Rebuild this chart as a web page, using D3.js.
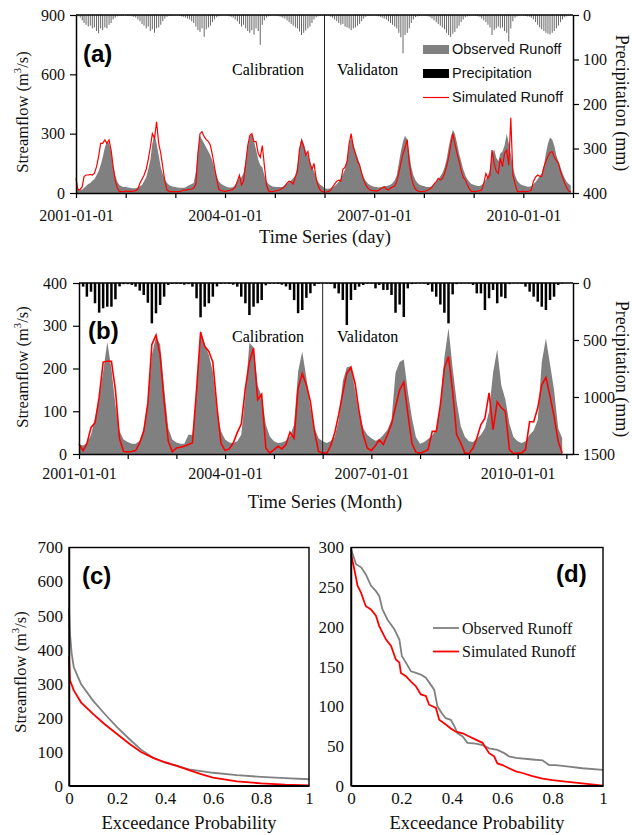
<!DOCTYPE html>
<meta charset="utf-8">
<script src="https://d3js.org/d3.v7.min.js"></script>
<style>
  body { margin: 0; background: #fff; }
  svg text { font-family: "Liberation Serif", "Times New Roman", serif; }
  svg text.sans { font-family: "Liberation Sans", Arial, sans-serif; }
</style>
<div id="chart"></div>
<script>
// ---- (a) daily series at half-month steps (2001-2010)
var obsDaily = [
  24,20,18,18,25,35,45,50,62,70,90,110,140,180,230,260,250,210,140,90,55,40,34,30,
  32,28,26,24,24,24,28,35,40,60,80,120,165,250,300,250,190,130,95,70,50,40,35,32,
  30,28,26,26,26,28,35,40,45,50,110,210,290,270,250,230,210,190,160,120,85,60,48,40,
  35,30,28,28,30,40,60,75,80,100,160,230,280,300,260,220,170,140,130,90,60,45,38,33,
  32,30,30,30,32,40,48,55,65,75,90,140,220,280,250,215,190,160,130,110,80,55,42,35,
  25,22,22,24,28,35,45,55,75,95,120,170,240,280,250,210,180,150,110,80,60,48,40,35,
  32,30,28,30,32,35,35,38,42,50,65,90,150,210,260,290,270,200,130,90,65,50,42,38,
  35,32,30,30,35,45,55,70,85,100,130,170,230,280,320,300,250,200,160,120,90,70,55,45,
  42,38,35,35,40,50,70,90,120,200,220,180,160,200,210,240,300,250,200,130,90,65,50,42,
  38,35,32,32,35,45,55,70,85,100,140,200,250,280,270,240,190,160,130,100,75,55,45,38
];
var simDaily = [
  74,15,19,32,83,91,91,94,91,99,133,184,251,251,268,251,268,217,133,66,24,7,7,7,
  10,8,8,8,10,12,20,50,70,90,120,170,230,300,276,360,250,200,130,60,15,8,7,7,
  7,7,7,10,15,15,17,18,20,25,45,200,300,310,285,270,260,240,190,130,70,20,12,10,
  8,10,12,15,20,30,60,90,40,60,150,240,290,300,260,260,200,180,240,140,40,10,7,7,
  10,12,15,20,25,35,50,60,55,45,80,110,220,265,235,190,210,150,120,150,70,35,15,7,
  5,5,8,15,30,45,60,65,60,120,130,160,250,300,230,200,160,140,100,65,40,25,15,12,
  12,10,12,20,25,30,20,15,25,30,35,60,100,150,200,230,270,150,80,40,20,10,8,7,
  8,10,15,22,30,45,57,74,66,74,100,133,180,240,300,250,200,160,116,80,66,40,20,8,
  8,7,10,12,15,49,99,74,91,217,150,110,99,175,133,200,217,140,380,90,49,10,7,7,
  8,7,8,10,15,60,80,91,85,83,130,160,184,205,209,184,165,150,110,80,49,25,10,7
];
var precDaily = [
  2,3,6,12,18,22,26,24,30,28,36,41,30,34,28,30,22,18,10,6,3,2,2,1,
  1,2,2,3,4,6,10,14,20,24,30,26,36,32,40,30,28,22,14,8,4,2,2,1,
  1,1,2,3,4,6,8,10,14,18,26,34,38,30,49,32,28,24,16,10,5,3,2,1,
  1,2,3,4,6,10,14,20,26,22,30,36,40,34,44,30,36,67,22,12,6,3,2,1,
  1,2,3,4,6,8,12,16,20,24,28,30,37,45,40,35,30,26,18,10,5,3,2,1,
  1,2,2,4,6,10,14,18,22,20,26,28,30,34,30,28,24,20,14,8,4,2,2,1,
  1,2,3,4,6,8,10,14,18,22,26,30,40,50,86,45,40,30,18,10,5,3,2,1,
  1,2,3,5,8,12,16,20,24,28,32,40,45,49,42,38,30,24,16,10,5,3,2,1,
  1,2,3,4,8,12,16,22,28,45,34,30,26,30,28,36,40,60,30,14,6,3,2,1,
  1,2,3,4,6,10,16,22,28,32,36,40,42,44,40,36,30,24,16,10,5,3,2,1
];

// ---- (b) monthly series 2001-01 .. 2010-12
var obsMonthly = [
  22,20,26,45,84,131,193,262,200,115,53,34,
  28,24,24,31,61,123,232,275,256,154,61,34,
  27,24,24,45,45,139,290,256,232,193,100,53,
  34,27,26,30,45,139,260,250,160,135,69,41,
  30,26,27,31,41,69,193,240,178,108,61,37,
  30,26,30,40,80,170,203,205,150,95,60,45,
  37,31,34,45,56,80,190,215,221,147,84,39,
  24,28,35,44,57,115,225,295,201,123,65,41,
  30,28,36,45,60,100,190,245,160,128,70,40,
  30,26,30,45,55,80,215,270,210,150,60,37
];
var simMonthly = [
  23,8,24,62,73,133,215,217,217,150,35,6,
  5,6,8,26,53,119,256,278,232,123,30,5,
  14,16,18,22,26,150,285,252,240,215,110,25,
  8,12,25,50,70,155,215,248,127,140,14,2,
  10,18,12,22,51,37,154,188,162,123,53,6,
  2,2,18,49,92,143,189,203,165,100,45,14,
  8,20,33,22,45,70,110,150,168,95,25,4,
  2,6,10,53,53,115,201,228,147,45,26,2,
  1,14,37,69,84,143,57,122,108,100,10,1,
  2,3,10,76,75,108,162,179,135,88,30,2
];
var precMonthly = [
  10,32,120,76,178,260,222,208,208,143,30,10,
  10,17,32,67,105,173,354,266,193,120,17,8,
  8,8,15,10,32,134,301,208,178,120,30,8,
  5,8,15,32,120,178,281,208,178,149,20,8,
  5,8,15,30,60,150,265,237,130,90,25,8,
  3,5,9,47,91,149,368,149,61,32,17,5,
  5,47,17,61,61,105,261,189,298,47,10,5,
  3,5,17,76,120,189,261,354,100,10,5,3,
  5,17,91,91,237,134,61,178,120,134,10,3,
  3,5,32,76,120,164,208,237,149,120,17,5
];
var dateLabels = ["2001-01-01", "2004-01-01", "2007-01-01", "2010-01-01"];

// ---- (c) daily flow duration curves
var fdcDayObsP = [0, 0.004, 0.011, 0.02, 0.05, 0.1, 0.15, 0.2, 0.25, 0.3, 0.35, 0.4, 0.5, 0.6, 0.7, 0.8, 0.9, 1.0];
var fdcDayObsQ = [520, 448, 389, 348, 299, 250, 210, 172, 138, 106, 82, 68, 48, 38, 31, 26, 22, 19];
var fdcDaySimP = [0, 0.004, 0.02, 0.05, 0.1, 0.15, 0.2, 0.25, 0.3, 0.35, 0.4, 0.45, 0.5, 0.55, 0.6, 0.7, 0.8, 0.9, 1.0];
var fdcDaySimQ = [380, 310, 280, 245, 211, 180, 152, 124, 99, 82, 69, 58, 46, 34, 24, 13, 7, 3, 1];

// ---- (d) monthly flow duration curves
var fdcMonObsP = [0, 0.02, 0.04, 0.059, 0.079, 0.099, 0.112, 0.125, 0.145, 0.172, 0.192, 0.202, 0.218, 0.238, 0.258, 0.277, 0.297, 0.317, 0.33, 0.343, 0.361, 0.376, 0.396, 0.41, 0.423, 0.443, 0.462, 0.495, 0.522, 0.548, 0.581, 0.608, 0.627, 0.654, 0.72, 0.76, 0.786, 0.812, 0.865, 0.918, 1.0];
var fdcMonObsQ = [298, 279, 275, 266, 252, 245, 239, 222, 209, 197, 184, 163, 155, 144, 142, 140, 136, 127, 121, 100, 91, 85, 83, 75, 66, 62, 54, 53, 51, 47, 45, 41, 37, 35, 33, 32, 26, 26, 24, 22, 20];
var fdcMonSimP = [0, 0.013, 0.026, 0.04, 0.053, 0.059, 0.079, 0.099, 0.112, 0.139, 0.159, 0.178, 0.192, 0.198, 0.218, 0.238, 0.258, 0.277, 0.297, 0.31, 0.337, 0.35, 0.376, 0.396, 0.416, 0.443, 0.469, 0.495, 0.522, 0.548, 0.568, 0.581, 0.601, 0.627, 0.654, 0.68, 0.72, 0.76, 0.799, 0.852, 0.918, 1.0];
var fdcMonSimQ = [292, 273, 252, 243, 231, 226, 222, 214, 201, 184, 176, 159, 155, 142, 138, 131, 125, 115, 113, 102, 98, 83, 77, 72, 68, 66, 62, 58, 54, 41, 37, 28, 26, 22, 18, 16, 12, 9, 7, 5, 3, 0];

var serif = "'Liberation Serif', 'Times New Roman', serif";
var grey = "#808080";

var svg = d3.select("#chart").append("svg")
    .attr("width", 632)
    .attr("height", 835);

function halfMonth(k) {
  return new Date(2001 + Math.floor(k / 24), Math.floor((k % 24) / 2), k % 2 ? 16 : 1);
}
function month(i) {
  return new Date(2001 + Math.floor(i / 12), i % 12, 1);
}
function yearTickFormat(d) {
  var s = d3.timeFormat("%Y-%m-%d")(d);
  return dateLabels.includes(s) ? s : "";
}
function styleAxis(g, fs) {
  g.attr("font-size", fs);
  g.select(".domain").attr("stroke", "#000").attr("stroke-width", 1.5);
  g.selectAll(".tick line").attr("stroke", "#000").attr("stroke-width", 1.2);
  g.selectAll(".tick text").attr("fill", "#111").style("font-family", serif).style("font-size", fs + "px");
}
function yTitle(x, y, size, rot, first, after) {
  var t = svg.append("text")
    .attr("transform", "translate(" + x + "," + y + ")rotate(" + rot + ")")
    .attr("text-anchor", "middle")
    .attr("font-size", size)
    .attr("fill", "#111");
  t.append("tspan").text(first);
  if (after) {
    t.append("tspan").attr("dy", -size * 0.4).attr("font-size", size * 0.65).text("3");
    t.append("tspan").attr("dy", size * 0.4).text(after);
  }
}
function label(x, y, txt) {
  svg.append("text").attr("class", "sans").attr("x", x).attr("y", y)
    .attr("font-weight", "bold").attr("font-size", 24).text(txt);
}

// ================= panel (a) =================
var xa = d3.scaleTime().domain([new Date(2001, 0, 1), new Date(2011, 0, 1)]).range([76, 573]);
var ya = d3.scaleLinear().domain([0, 900]).range([193, 15]);
var pa = d3.scaleLinear().domain([0, 400]).range([15, 193]);

svg.append("path")
  .datum(obsDaily)
  .attr("fill", grey)
  .attr("d", d3.area()
    .x(function(d, k) { return xa(halfMonth(k)); })
    .y0(ya(0))
    .y1(function(d) { return ya(d); }));

svg.selectAll(".precA")
  .data(precDaily)
  .enter()
  .append("line")
    .attr("x1", function(d, k) { return xa(halfMonth(k)); })
    .attr("x2", function(d, k) { return xa(halfMonth(k)); })
    .attr("y1", pa(0))
    .attr("y2", function(d) { return pa(d); })
    .attr("stroke", "#333")
    .attr("stroke-opacity", 0.75)
    .attr("stroke-width", 1);

svg.append("path")
  .datum(simDaily)
  .attr("fill", "none")
  .attr("stroke", "#ff0000")
  .attr("stroke-width", 1.2)
  .attr("d", d3.line()
    .x(function(d, k) { return xa(halfMonth(k)); })
    .y(function(d) { return ya(d); }));

svg.append("line")
  .attr("x1", xa(new Date(2006, 0, 1))).attr("x2", xa(new Date(2006, 0, 1)))
  .attr("y1", 15).attr("y2", 193)
  .attr("stroke", "#222").attr("stroke-width", 1);
svg.append("line")
  .attr("x1", 76).attr("x2", 573).attr("y1", 15).attr("y2", 15)
  .attr("stroke", "#000").attr("stroke-width", 1.5);

svg.append("g")
  .attr("transform", "translate(76,0)")
  .call(d3.axisLeft(ya).tickValues([0, 300, 600, 900]).tickSize(6).tickPadding(5).tickSizeOuter(0))
  .call(styleAxis, 16);
svg.append("g")
  .attr("transform", "translate(573,0)")
  .call(d3.axisRight(pa).tickValues([0, 100, 200, 300, 400]).tickSize(6).tickPadding(4).tickSizeOuter(0))
  .call(styleAxis, 16);
svg.append("g")
  .attr("transform", "translate(0,193)")
  .call(d3.axisBottom(xa).ticks(d3.timeYear.every(1)).tickFormat(yearTickFormat).tickSize(5).tickPadding(12).tickSizeOuter(0))
  .call(styleAxis, 16);

label(83, 62, "(a)");
svg.append("text").attr("x", 232).attr("y", 75).attr("font-size", 16).text("Calibration");
svg.append("text").attr("x", 337).attr("y", 75).attr("font-size", 16).text("Validaton");

svg.append("rect").attr("x", 423).attr("y", 45).attr("width", 26).attr("height", 9).attr("fill", grey);
svg.append("rect").attr("x", 423).attr("y", 69).attr("width", 26).attr("height", 9).attr("fill", "#000");
svg.append("line").attr("x1", 423).attr("x2", 449).attr("y1", 97.5).attr("y2", 97.5).attr("stroke", "#ff0000").attr("stroke-width", 1.2);
[["Observed Runoff", 54], ["Precipitation", 78], ["Simulated Runoff", 102]].forEach(function(l) {
  svg.append("text").attr("class", "sans").attr("x", 452).attr("y", l[1]).attr("font-size", 14.5).attr("fill", "#111").text(l[0]);
});

yTitle(28, 112, 16.5, -90, "Streamflow (m", "/s)");
yTitle(616, 103, 18, 90, "Precipitation (mm)");
svg.append("text").attr("x", 325).attr("y", 243).attr("text-anchor", "middle")
  .attr("font-size", 18.5).attr("fill", "#111").text("Time Series (day)");

// ================= panel (b) =================
var xb = d3.scaleTime().domain([new Date(2001, 0, 1), new Date(2011, 1, 20)]).range([79, 573]);
var yb = d3.scaleLinear().domain([0, 400]).range([454, 283]);
var pb = d3.scaleLinear().domain([0, 1500]).range([283, 454]);

svg.append("path")
  .datum(obsMonthly)
  .attr("fill", grey)
  .attr("d", d3.area()
    .x(function(d, i) { return xb(month(i)); })
    .y0(yb(0))
    .y1(function(d) { return yb(d); }));

svg.selectAll(".precB")
  .data(precMonthly)
  .enter()
  .append("rect")
    .attr("x", function(d, i) { return xb(month(i)) - 1.25; })
    .attr("y", pb(0))
    .attr("width", 2.5)
    .attr("height", function(d) { return pb(d) - pb(0); })
    .attr("fill", "#000");

svg.append("path")
  .datum(simMonthly)
  .attr("fill", "none")
  .attr("stroke", "#ff0000")
  .attr("stroke-width", 1.6)
  .attr("d", d3.line()
    .x(function(d, i) { return xb(month(i)); })
    .y(function(d) { return yb(d); }));

svg.append("line")
  .attr("x1", xb(new Date(2006, 0, 1))).attr("x2", xb(new Date(2006, 0, 1)))
  .attr("y1", 283).attr("y2", 454)
  .attr("stroke", "#222").attr("stroke-width", 1);
svg.append("line")
  .attr("x1", 79).attr("x2", 573).attr("y1", 283).attr("y2", 283)
  .attr("stroke", "#000").attr("stroke-width", 1.5);

svg.append("g")
  .attr("transform", "translate(79,0)")
  .call(d3.axisLeft(yb).tickValues([0, 100, 200, 300, 400]).tickSize(6).tickPadding(6).tickSizeOuter(0))
  .call(styleAxis, 16);
svg.append("g")
  .attr("transform", "translate(573,0)")
  .call(d3.axisRight(pb).tickValues([0, 500, 1000, 1500]).tickFormat(d3.format("d")).tickSize(6).tickPadding(4).tickSizeOuter(0))
  .call(styleAxis, 16);
svg.append("g")
  .attr("transform", "translate(0,454)")
  .call(d3.axisBottom(xb).ticks(d3.timeYear.every(1)).tickFormat(yearTickFormat).tickSize(5).tickPadding(9).tickSizeOuter(0))
  .call(styleAxis, 16);

label(88, 339, "(b)");
svg.append("text").attr("x", 232).attr("y", 342).attr("font-size", 16).text("Calibration");
svg.append("text").attr("x", 337).attr("y", 342).attr("font-size", 16).text("Validaton");

yTitle(28, 367, 16.5, -90, "Streamflow (m", "/s)");
yTitle(616, 369, 18, 90, "Precipitation (mm)");
svg.append("text").attr("x", 325).attr("y", 508).attr("text-anchor", "middle")
  .attr("font-size", 18.5).attr("fill", "#111").text("Time Series (Month)");

// ================= panels (c) and (d) =================
function fdcPanel(x0, x1, yMax, step, padL, obsP, obsQ, simP, simQ) {
  var x = d3.scaleLinear().domain([0, 1]).range([x0, x1]);
  var y = d3.scaleLinear().domain([0, yMax]).range([785.7, 547.5]);
  var line = d3.line()
    .x(function(d) { return x(d[0]); })
    .y(function(d) { return y(d[1]); });

  svg.append("path")
    .datum(d3.zip(obsP, obsQ))
    .attr("fill", "none").attr("stroke", grey).attr("stroke-width", 1.8)
    .attr("d", line);
  svg.append("path")
    .datum(d3.zip(simP, simQ))
    .attr("fill", "none").attr("stroke", "#ff0000").attr("stroke-width", 1.8)
    .attr("d", line);

  svg.append("rect")
    .attr("x", x0).attr("y", 547.5).attr("width", x1 - x0).attr("height", 785.7 - 547.5)
    .attr("fill", "none").attr("stroke", "#000").attr("stroke-width", 1.4);

  svg.append("g")
    .attr("transform", "translate(" + x0 + ",0)")
    .call(d3.axisLeft(y).tickValues(d3.range(0, yMax + 1, step)).tickSize(0).tickPadding(padL))
    .call(styleAxis, 17);
  svg.append("g")
    .attr("transform", "translate(0,785.7)")
    .call(d3.axisBottom(x).tickValues([0, 0.2, 0.4, 0.6, 0.8, 1]).tickFormat(d3.format("~g")).tickSize(0).tickPadding(6))
    .call(styleAxis, 17);

  svg.append("text").attr("x", (x0 + x1) / 2).attr("y", 829).attr("text-anchor", "middle")
    .attr("font-size", 18.5).attr("fill", "#111").text("Exceedance Probability");
}

fdcPanel(69, 309, 700, 100, 6, fdcDayObsP, fdcDayObsQ, fdcDaySimP, fdcDaySimQ);
fdcPanel(351, 603, 300, 50, 7, fdcMonObsP, fdcMonObsQ, fdcMonSimP, fdcMonSimQ);

label(82, 584, "(c)");
label(556, 582, "(d)");
yTitle(26, 672, 16.5, -90, "Streamflow (m", "/s)");

svg.append("line").attr("x1", 433).attr("x2", 459).attr("y1", 628).attr("y2", 628).attr("stroke", grey).attr("stroke-width", 1.8);
svg.append("line").attr("x1", 433).attr("x2", 459).attr("y1", 651.5).attr("y2", 651.5).attr("stroke", "#ff0000").attr("stroke-width", 1.8);
svg.append("text").attr("x", 462).attr("y", 633.5).attr("font-size", 16).attr("fill", "#111").text("Observed Runoff");
svg.append("text").attr("x", 462).attr("y", 657).attr("font-size", 16).attr("fill", "#111").text("Simulated Runoff");
</script>
